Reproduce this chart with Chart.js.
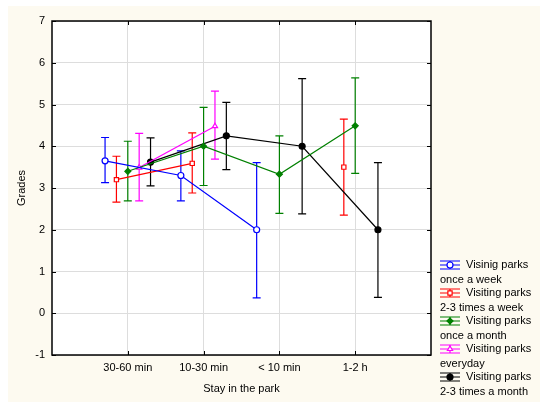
<!DOCTYPE html>
<html>
<head>
<meta charset="utf-8">
<script src="https://cdn.jsdelivr.net/npm/chart.js@4.4.1/dist/chart.umd.min.js"></script>
<style>
  html, body { margin: 0; padding: 0; background: #fff; }
  #wrap { width: 550px; height: 415px; position: relative; }
</style>
</head>
<body>
<div id="wrap"><canvas id="chart" width="550" height="415"></canvas></div>
<script>
// categories on the x axis
const categories = ['30-60 min', '10-30 min', '< 10 min', '1-2 h'];
const yTicks = [-1, 0, 1, 2, 3, 4, 5, 6, 7];

// legend labels (two lines each)
const seriesNames = [
    ['Visinig parks', 'once a week'],
    ['Visiting parks', '2-3 times a week'],
    ['Visiting parks', 'once a month'],
    ['Visiting parks', 'everyday'],
    ['Visiting parks', '2-3 times a month']
];

// means and error bar ends, one value per category
const blueMean = [3.65, 3.30, 2.00, null];
const blueLow = [3.13, 2.69, 0.37, null];
const blueHigh = [4.21, 3.89, 3.61, null];

const redMean = [3.20, 3.59, null, 3.50];
const redLow = [2.66, 2.88, null, 2.35];
const redHigh = [3.76, 4.32, null, 4.65];

const greenMean = [3.40, 4.00, 3.33, 4.49];
const greenLow = [2.69, 3.06, 2.39, 3.35];
const greenHigh = [4.12, 4.93, 4.25, 5.64];

const magentaMean = [3.49, 4.48, null, null];
const magentaLow = [2.69, 3.69, null, null];
const magentaHigh = [4.31, 5.32, null, null];

const blackMean = [3.62, 4.25, 4.00, 2.00];
const blackLow = [3.05, 3.44, 2.38, 0.38];
const blackHigh = [4.20, 5.05, 5.62, 3.61];

// horizontal shift of each series around its category
const offsets = [-0.3, -0.15, 0, 0.15, 0.3];

const FONT = '"Liberation Sans", Arial, sans-serif';

function makeSeries(idx, means, lows, highs, color, style, fill) {
    return {
        label: seriesNames[idx].join(' '),
        data: means.map((m, i) => ({ x: i + 1 + offsets[idx], y: m })),
        lows: lows,
        highs: highs,
        borderColor: color,
        backgroundColor: fill,
        pointBorderColor: color,
        pointBackgroundColor: fill,
        pointStyle: style,
        pointRadius: 3,
        pointBorderWidth: 1.2,
        borderWidth: 1.2,
        spanGaps: false,
        tension: 0
    };
}

const datasets = [
    makeSeries(0, blueMean, blueLow, blueHigh, '#0000ff', 'circle', '#ffffff'),
    makeSeries(1, redMean, redLow, redHigh, '#ff0000', 'rect', '#ffffff'),
    makeSeries(2, greenMean, greenLow, greenHigh, '#008000', 'rectRot', '#008000'),
    makeSeries(3, magentaMean, magentaLow, magentaHigh, '#ff00ff', 'triangle', '#ffffff'),
    makeSeries(4, blackMean, blackLow, blackHigh, '#000000', 'circle', '#000000')
];

const backgroundPlugin = {
    id: 'background',
    beforeDraw(chart) {
        const ctx = chart.ctx;
        const a = chart.chartArea;
        ctx.save();
        ctx.fillStyle = '#ffffff';
        ctx.fillRect(0, 0, chart.width, chart.height);
        ctx.fillStyle = '#fdfaf0';
        ctx.fillRect(8, 6, 532, 396);
        ctx.fillStyle = '#ffffff';
        ctx.fillRect(a.left, a.top, a.right - a.left, a.bottom - a.top);
        ctx.restore();
    }
};

const errorBarPlugin = {
    id: 'errorBars',
    beforeDatasetsDraw(chart) {
        const ctx = chart.ctx;
        const xs = chart.scales.x;
        const ys = chart.scales.y;
        ctx.save();
        chart.data.datasets.forEach(ds => {
            ctx.strokeStyle = ds.borderColor;
            ctx.lineWidth = 1.2;
            ds.data.forEach((p, i) => {
                if (p.y === null) return;
                const px = xs.getPixelForValue(p.x);
                const top = ys.getPixelForValue(ds.highs[i]);
                const bot = ys.getPixelForValue(ds.lows[i]);
                ctx.beginPath();
                ctx.moveTo(px, top);
                ctx.lineTo(px, bot);
                ctx.moveTo(px - 4, top);
                ctx.lineTo(px + 4, top);
                ctx.moveTo(px - 4, bot);
                ctx.lineTo(px + 4, bot);
                ctx.stroke();
            });
        });
        ctx.restore();
    }
};

const framePlugin = {
    id: 'frame',
    afterDraw(chart) {
        const ctx = chart.ctx;
        const a = chart.chartArea;
        const xs = chart.scales.x;
        const ys = chart.scales.y;
        ctx.save();
        ctx.strokeStyle = '#000000';
        ctx.lineWidth = 1.5;
        ctx.strokeRect(a.left, a.top, a.right - a.left, a.bottom - a.top);
        // inward tick marks
        ctx.lineWidth = 1;
        ctx.beginPath();
        yTicks.forEach(v => {
            const py = Math.round(ys.getPixelForValue(v)) + 0.5;
            ctx.moveTo(a.left, py); ctx.lineTo(a.left + 4, py);
            ctx.moveTo(a.right, py); ctx.lineTo(a.right - 4, py);
        });
        categories.forEach((c, i) => {
            const px = Math.round(xs.getPixelForValue(i + 1)) + 0.5;
            ctx.moveTo(px, a.bottom); ctx.lineTo(px, a.bottom - 4);
            ctx.moveTo(px, a.top); ctx.lineTo(px, a.top + 4);
        });
        ctx.stroke();

        // axis titles
        ctx.fillStyle = '#000000';
        ctx.font = '11px ' + FONT;
        ctx.textAlign = 'center';
        ctx.textBaseline = 'middle';
        ctx.fillText('Stay in the park', (a.left + a.right) / 2, 389);
        ctx.save();
        ctx.translate(22, (a.top + a.bottom) / 2);
        ctx.rotate(-Math.PI / 2);
        ctx.fillText('Grades', 0, 0);
        ctx.restore();

        // legend
        ctx.textAlign = 'left';
        chart.data.datasets.forEach((ds, i) => {
            const y = 265 + i * 28;
            const cx = 450;
            ctx.strokeStyle = ds.borderColor;
            ctx.lineWidth = 1.2;
            ctx.beginPath();
            ctx.moveTo(440, y - 4); ctx.lineTo(460, y - 4);
            ctx.moveTo(440, y); ctx.lineTo(460, y);
            ctx.moveTo(440, y + 4); ctx.lineTo(460, y + 4);
            ctx.moveTo(cx, y - 4); ctx.lineTo(cx, y + 4);
            ctx.stroke();
            ctx.fillStyle = ds.pointBackgroundColor;
            Chart.helpers.drawPoint(ctx, {
                pointStyle: ds.pointStyle, radius: 3, borderWidth: 1.2
            }, cx, y);
            ctx.fillStyle = '#000000';
            ctx.fillText(seriesNames[i][0], 466, y);
            ctx.fillText(seriesNames[i][1], 440, y + 15);
        });
        ctx.restore();
    }
};

new Chart(document.getElementById('chart'), {
    type: 'line',
    data: { datasets: datasets },
    plugins: [backgroundPlugin, errorBarPlugin, framePlugin],
    options: {
        responsive: false,
        animation: false,
        devicePixelRatio: 1,
        layout: { padding: { left: 0, top: 21, right: 119, bottom: 0 } },
        plugins: {
            legend: { display: false },
            tooltip: { enabled: false }
        },
        scales: {
            x: {
                type: 'linear',
                min: 0,
                max: 5,
                afterBuildTicks: scale => {
                    scale.ticks = categories.map((c, i) => ({ value: i + 1 }));
                },
                afterFit: scale => { scale.height = 60; },
                ticks: {
                    callback: v => categories[v - 1],
                    color: '#000000',
                    font: { size: 11, family: FONT },
                    padding: 6,
                    maxRotation: 0,
                    autoSkip: false
                },
                grid: { color: '#dddddd', drawTicks: false },
                border: { display: false }
            },
            y: {
                min: -1,
                max: 7,
                afterBuildTicks: scale => {
                    scale.ticks = yTicks.map(v => ({ value: v }));
                },
                afterFit: scale => { scale.width = 52; },
                ticks: {
                    color: '#000000',
                    font: { size: 11, family: FONT },
                    padding: 7
                },
                grid: { color: '#dddddd', drawTicks: false },
                border: { display: false }
            }
        }
    }
});
</script>
</body>
</html>
